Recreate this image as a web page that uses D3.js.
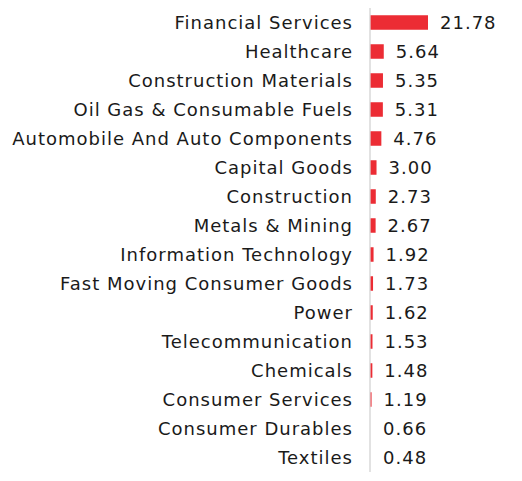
<html>
<head>
  <title>Sector Allocation</title>
  <script src="https://d3js.org/d3.v7.min.js"></script>
  <style>
    body{ margin: 0; background: #fff; }
    text{ font-family: "DejaVu Sans", sans-serif; letter-spacing: 1px; }
  </style>
</head>
<body>
  <svg id="chart" width="522" height="481"></svg>
  <script>
    const sectors = ["Financial Services","Healthcare","Construction Materials","Oil Gas & Consumable Fuels",
      "Automobile And Auto Components","Capital Goods","Construction","Metals & Mining",
      "Information Technology","Fast Moving Consumer Goods","Power","Telecommunication",
      "Chemicals","Consumer Services","Consumer Durables","Textiles"];
    const weights = [21.78,5.64,5.35,5.31,4.76,3.00,2.73,2.67,1.92,1.73,1.62,1.53,1.48,1.19,0.66,0.48];

    const svg = d3.select("#chart");
    const axisX = 370;

    let yScale = d3.scaleBand().domain(sectors).range([8, 472]).paddingInner(0.5).paddingOuter(0.25);
    // bars start from ~0.62 in the original, small values get no visible bar
    let xScale = d3.scaleLinear().domain([0.62, 21.78]).range([axisX, axisX + 58]).clamp(true);

    svg.append("line")
      .attr("x1", axisX).attr("x2", axisX)
      .attr("y1", 8).attr("y2", 472)
      .attr("stroke", "#cfcfcf").attr("stroke-width", 1.2);

    let rows = svg.append("g").selectAll("g").data(sectors).join("g");

    rows.append("rect")
      .attr("x", axisX + 0.6)
      .attr("y", d => yScale(d))
      .attr("height", yScale.bandwidth())
      .attr("width", (d, i) => Math.max(0, xScale(weights[i]) - axisX - 0.6))
      .attr("fill", "#ec2c34");

    rows.append("text")
      .attr("x", axisX - 17)
      .attr("y", d => yScale(d) + yScale.bandwidth() / 2)
      .attr("dy", "0.36em")
      .attr("text-anchor", "end")
      .attr("font-size", 18)
      .attr("fill", "#1a1a1a")
      .text(d => d);

    rows.append("text")
      .attr("x", (d, i) => Math.max(xScale(weights[i]), axisX + 1) + 12)
      .attr("y", d => yScale(d) + yScale.bandwidth() / 2)
      .attr("dy", "0.36em")
      .attr("font-size", 18)
      .attr("fill", "#1a1a1a")
      .text((d, i) => weights[i].toFixed(2));
  </script>
</body>
</html>
